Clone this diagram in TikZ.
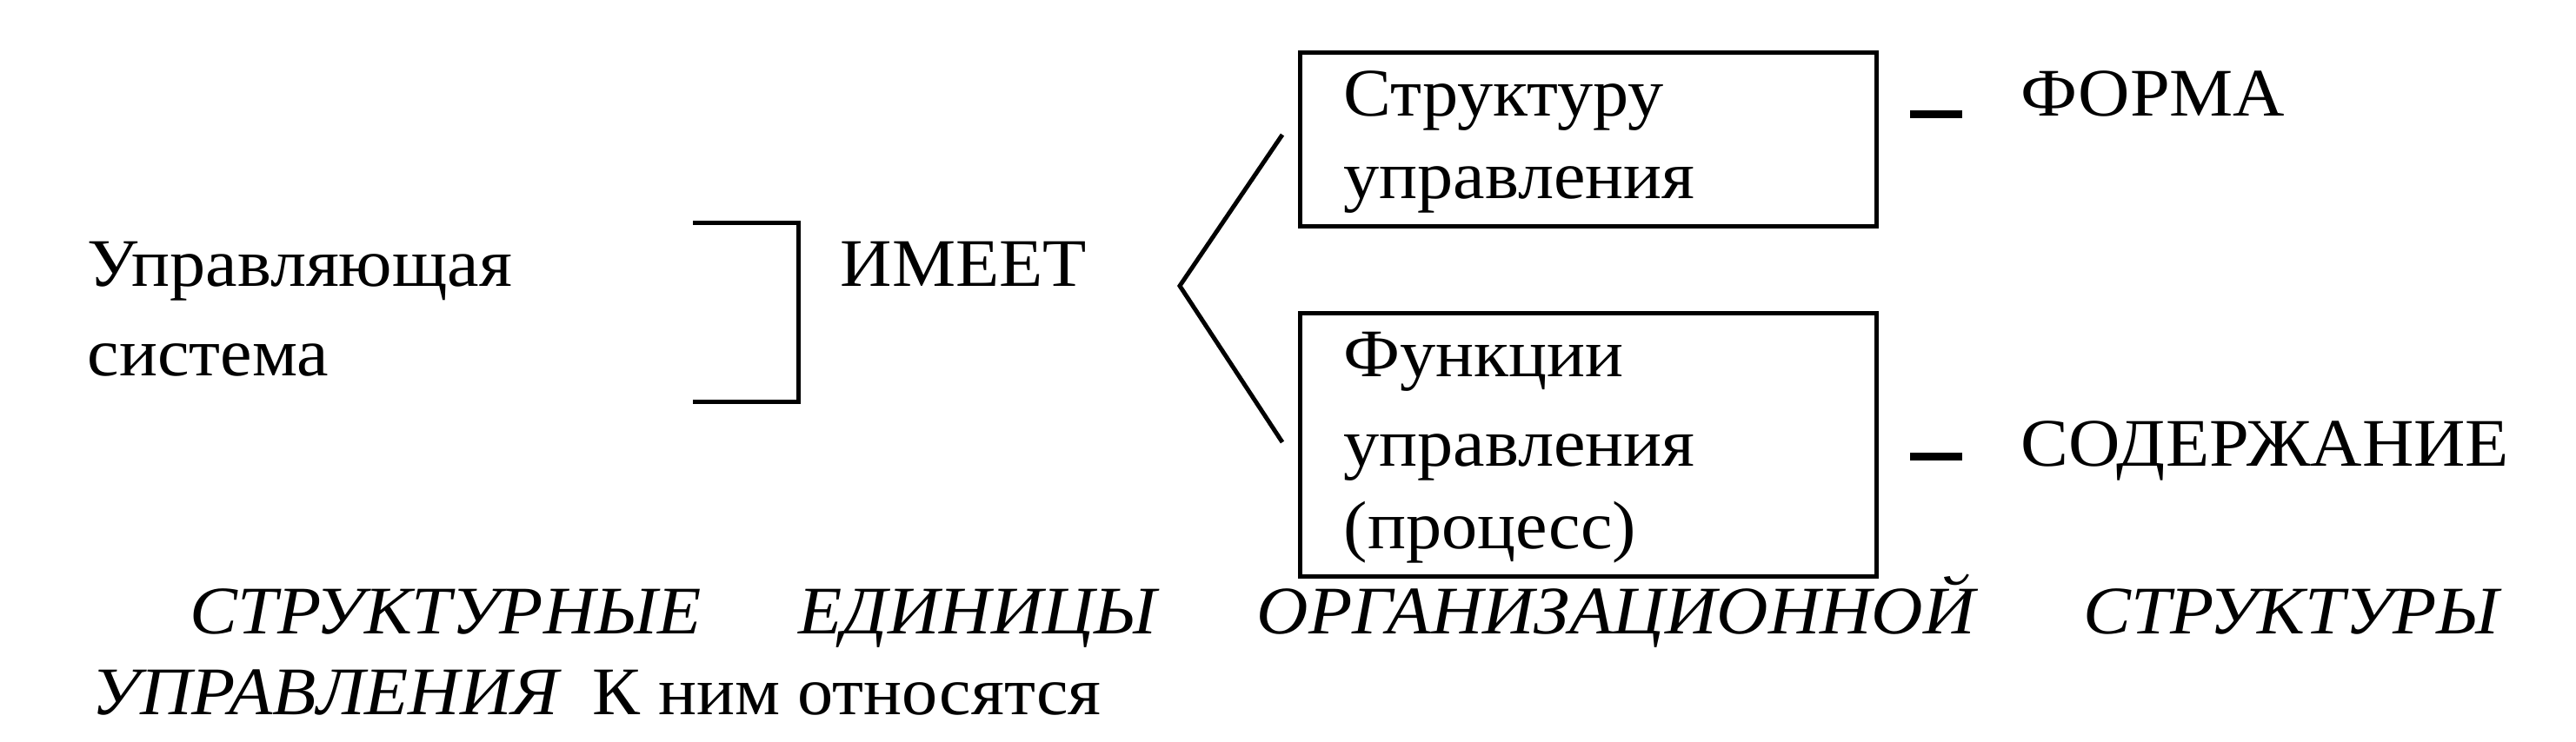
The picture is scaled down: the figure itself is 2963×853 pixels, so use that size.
\documentclass[tikz,border=0pt]{standalone}
\usepackage{fontspec}
\setmainfont{Liberation Serif}[FakeStretch=1.05]
\begin{document}
\begin{tikzpicture}[x=0.3pt,y=-0.3pt,
  txt/.style={anchor=base west,inner sep=0pt,font=\fontsize{23.5}{28}\selectfont},
  itxt/.style={txt,font=\fontsize{23.5}{28}\selectfont\itshape},
  ln/.style={line width=1.5pt},
  dashln/.style={line width=2.7pt},
  boxnode/.style={draw,line width=1.5pt,inner sep=0pt}]
\useasboundingbox (0,0) rectangle (2963,853);
% left text
\node[txt] (us1) at (100,329) {Управляющая};
\node[txt] (us2) at (100,432) {система};
% bracket
\coordinate (b1) at (797,256);
\coordinate (b2) at (918,256);
\coordinate (b3) at (918,462);
\coordinate (b4) at (797,462);
\draw[ln] (b1) -- (b2) -- (b3) -- (b4);
\node[txt] (imeet) at (966,329) {ИМЕЕТ};
% angle
\coordinate (v) at (1357,329);
\coordinate (vu) at (1475,155);
\coordinate (vd) at (1475,509);
\draw[ln] (vu) -- (v) -- (vd);
% boxes
\node[boxnode,minimum width=663*0.3pt,minimum height=200*0.3pt] (box1) at (1826.5,160) {};
\node[boxnode,minimum width=663*0.3pt,minimum height=303*0.3pt] (box2) at (1826.5,511.5) {};
\node[txt] (s1) at (1545,133) {Структуру};
\node[txt] (s2) at (1545,228) {управления};
\node[txt] (f1) at (1545,433) {Функции};
\node[txt] (f2) at (1545,536) {управления};
\node[txt] (f3) at (1545,631) {(процесс)};
% dashes
\coordinate (d1a) at (2197,131);
\coordinate (d1b) at (2257,131);
\coordinate (d2a) at (2197,525);
\coordinate (d2b) at (2257,525);
\draw[dashln] (d1a) -- (d1b);
\draw[dashln] (d2a) -- (d2b);
\node[txt] (forma) at (2324,133) {ФОРМА};
\node[txt] (soder) at (2324,536) {СОДЕРЖАНИЕ};
% bottom text
\node[itxt] (w1) at (218,729) {СТРУКТУРНЫЕ};
\node[itxt] (w2) at (918,729) {ЕДИНИЦЫ};
\node[itxt] (w3) at (1445,729) {ОРГАНИЗАЦИОННОЙ};
\node[itxt,anchor=base east] (w4) at (2875,729) {СТРУКТУРЫ};
\node[itxt] (w5) at (105,822) {УПРАВЛЕНИЯ};
\node[txt] (w6) at (681,822) {К ним относятся};
\end{tikzpicture}
\end{document}
